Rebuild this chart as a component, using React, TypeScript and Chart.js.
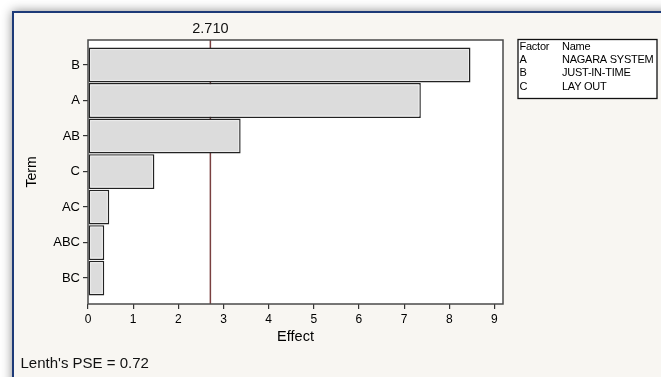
import React, { useEffect, useRef } from "react";
import { Chart, registerables } from "chart.js";

Chart.register(...registerables);

const terms = ["B", "A", "AB", "C", "AC", "ABC", "BC"];
const effects = [8.47, 7.37, 3.38, 1.47, 0.47, 0.36, 0.36];
const xTickValues = [0, 1, 2, 3, 4, 5, 6, 7, 8, 9];
const refValue = 2.71;
const refLabel = "2.710";
const legendHeader = ["Factor", "Name"];
const factors = ["A", "B", "C"];
const factorNames = ["NAGARA SYSTEM", "JUST-IN-TIME", "LAY OUT"];
const pseText = "Lenth's PSE = 0.72";

const W = 661;
const H = 377;
const FONT = "Arial, 'Liberation Sans', sans-serif";

const framePlugin = {
  id: "frame",
  beforeDraw(chart: any) {
    const ctx = chart.ctx;
    ctx.save();
    ctx.fillStyle = "#ffffff";
    ctx.fillRect(0, 0, W, H);
    ctx.shadowColor = "rgba(0,0,0,0.45)";
    ctx.shadowBlur = 10;
    ctx.fillStyle = "#1d3a78";
    ctx.fillRect(12, 11, W + 40, H + 40);
    ctx.restore();
    ctx.save();
    ctx.fillStyle = "#f8f6f2";
    ctx.fillRect(14, 13, W, H);
    const a = chart.chartArea;
    ctx.fillStyle = "#ffffff";
    ctx.fillRect(a.left, a.top, a.right - a.left, a.bottom - a.top);
    ctx.restore();
  },
  beforeDatasetsDraw(chart: any) {
    const ctx = chart.ctx;
    const a = chart.chartArea;
    const x = chart.scales.x.getPixelForValue(refValue);
    ctx.save();
    ctx.strokeStyle = "#7a4040";
    ctx.lineWidth = 1.5;
    ctx.beginPath();
    ctx.moveTo(x, a.top);
    ctx.lineTo(x, a.bottom);
    ctx.stroke();
    ctx.fillStyle = "#111";
    ctx.font = `14.5px ${FONT}`;
    ctx.textAlign = "center";
    ctx.textBaseline = "middle";
    ctx.fillText(refLabel, x, 29);
    ctx.restore();
  },
  afterDatasetsDraw(chart: any) {
    // soft inner highlight of each bar (3D look of the original)
    const ctx = chart.ctx;
    const meta = chart.getDatasetMeta(0);
    ctx.save();
    ctx.strokeStyle = "#ececec";
    ctx.lineWidth = 1;
    meta.data.forEach((bar: any) => {
      const p = bar.getProps(["x", "y", "base", "height"], true);
      const left = Math.min(p.base, p.x) + 2;
      const right = Math.max(p.base, p.x) - 2;
      const top = p.y - p.height / 2 + 2;
      const bottom = p.y + p.height / 2 - 2;
      if (right - left > 2) ctx.strokeRect(left, top, right - left, bottom - top);
    });
    ctx.restore();
  },
  afterDraw(chart: any) {
    const ctx = chart.ctx;
    const a = chart.chartArea;
    ctx.save();
    ctx.strokeStyle = "#4a4a4a";
    ctx.lineWidth = 1.5;
    ctx.strokeRect(a.left, a.top, a.right - a.left, a.bottom - a.top);

    // legend box
    const bx = 518, by = 39.5, bw = 139, bh = 59;
    ctx.fillStyle = "#ffffff";
    ctx.fillRect(bx, by, bw, bh);
    ctx.strokeStyle = "#111";
    ctx.lineWidth = 1.3;
    ctx.strokeRect(bx, by, bw, bh);
    ctx.fillStyle = "#000";
    ctx.font = `11px ${FONT}`;
    ctx.textAlign = "left";
    ctx.textBaseline = "middle";
    (ctx as any).letterSpacing = "-0.25px";
    const rows = [46.5, 59.7, 72.8, 87];
    ctx.fillText(legendHeader[0], 519.5, rows[0]);
    ctx.fillText(legendHeader[1], 562, rows[0]);
    factors.forEach((f, i) => {
      ctx.fillText(f, 519.5, rows[i + 1]);
      ctx.fillText(factorNames[i], 562, rows[i + 1]);
    });
    (ctx as any).letterSpacing = "0px";

    ctx.font = `15px ${FONT}`;
    ctx.fillStyle = "#111";
    ctx.fillText(pseText, 20.5, 364);
    ctx.restore();
  },
};

export default function App() {
  const ref = useRef<HTMLCanvasElement>(null);
  useEffect(() => {
    if (!ref.current) return;
    const chart = new Chart(ref.current, {
      type: "bar",
      data: {
        datasets: [
          {
            data: terms.map((t, i) => ({ x: effects[i], y: i })) as any,
            backgroundColor: "#dcdcdc",
            borderColor: "#222222",
            borderWidth: 1.5,
            borderSkipped: false,
            barPercentage: 0.98,
            categoryPercentage: 1,
          },
        ],
      },
      plugins: [framePlugin],
      options: {
        indexAxis: "y",
        animation: false,
        responsive: false,
        events: [],
        layout: { padding: { left: 14, right: 158, top: 40, bottom: 28 } },
        plugins: { legend: { display: false }, tooltip: { enabled: false } },
        scales: {
          x: {
            type: "linear",
            position: "bottom",
            min: 0,
            max: 9.19,
            offset: false,
            afterBuildTicks: (s: any) => {
              s.ticks = xTickValues.map((v) => ({ value: v }));
            },
            afterFit: (s: any) => {
              s.height = 45;
            },
            grid: { display: true, offset: false, drawOnChartArea: false, drawTicks: true, tickLength: 5, color: "#333", lineWidth: 1.2 },
            border: { display: false },
            ticks: { color: "#000", font: { size: 12, family: FONT }, padding: 3 },
            title: { display: true, text: "Effect", color: "#000", font: { size: 14.5, family: FONT }, padding: { top: 0, bottom: 3.6 } },
          },
          y: {
            type: "linear",
            position: "left",
            reverse: true,
            min: -0.704,
            max: 6.73,
            offset: false,
            afterBuildTicks: (s: any) => {
              s.ticks = terms.map((_, i) => ({ value: i }));
            },
            afterFit: (s: any) => {
              s.width = 74;
            },
            grid: { display: true, offset: false, drawOnChartArea: false, drawTicks: true, tickLength: 5, color: "#333", lineWidth: 1.2 },
            border: { display: false },
            ticks: {
              color: "#000",
              font: { size: 13, family: FONT },
              padding: 3,
              autoSkip: false,
              callback: (v: any) => terms[Math.round(Number(v))] ?? "",
            },
            title: { display: true, text: "Term", color: "#000", font: { size: 14, family: FONT }, padding: { top: 9.6, bottom: 0 } },
          },
        },
      } as any,
    });
    return () => chart.destroy();
  }, []);
  return (
    <div style={{ position: "absolute", left: 0, top: 0, width: W, height: H }}>
      <canvas ref={ref} width={W} height={H} style={{ display: "block", width: W, height: H }} />
    </div>
  );
}
